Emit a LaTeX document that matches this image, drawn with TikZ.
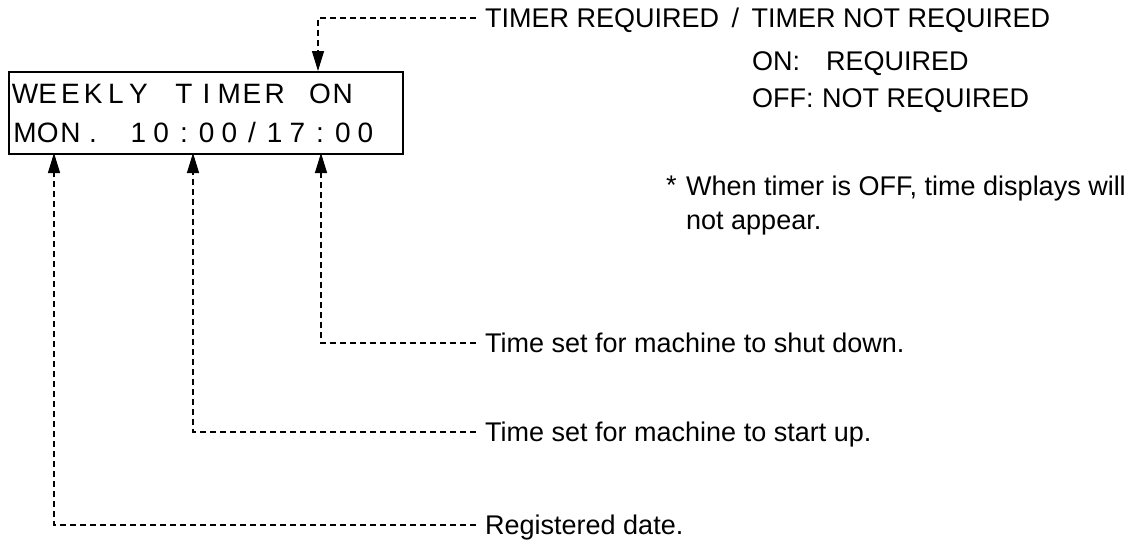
\documentclass[tikz,border=0pt]{standalone}
\usepackage{fontspec}
\setmainfont{Liberation Sans}
\usetikzlibrary{arrows.meta}

\begin{document}
\begin{tikzpicture}[x=1pt, y=-1pt,
  lcd/.style={anchor=base, inner sep=0pt, font={\fontsize{28}{28}\selectfont}},
  note/.style={anchor=west, inner sep=0pt, text height=19.3pt, text depth=0pt,
    font={\fontsize{27}{27}\selectfont}},
  lead/.style={line width=1.2pt, dash pattern=on 6pt off 4pt},
  tip/.style={-{Triangle[length=20pt, width=12pt]}}]
\useasboundingbox (0,0) rectangle (1141,546);
% display panel
\node[draw, line width=1.5pt, inner sep=0pt, minimum width=394pt, minimum height=82pt,
  anchor=north west] (disp) at (8,71) {};
\foreach \c [count=\i from 0] in {W,E,E,K,L,Y,{},T,I,M,E,R,{},O,N}
  \node[lcd] (upper\i) at ({25+\i*22.7},103) {\c};
\foreach \c [count=\i from 0] in {M,O,N,.,{},1,0,:,0,0,/,1,7,:,0,0}
  \node[lcd] (lower\i) at ({25+\i*22.7},142) {\c};
\coordinate (onpt) at (318,71);
\coordinate (datept) at (54,153);
\coordinate (startpt) at (193,153);
\coordinate (stoppt) at (321,153);
% labels
\node[note] (req) at (485,18) {TIMER REQUIRED\hspace{5pt} / \hspace{5pt}TIMER NOT REQUIRED};
\node[note] (on) at (752,61) {ON:};
\node[note] (onreq) at (826,61) {REQUIRED};
\node[note] (off) at (752,98) {OFF:};
\node[note] (offreq) at (822,98) {NOT REQUIRED};
\node[note] (star) at (666,185) {*};
\node[note] (remark) at (686,186) {When timer is OFF, time displays will};
\node[note] (remarkb) at (686,220) {not appear.};
\node[note] (stop) at (485,343) {Time set for machine to shut down.};
\node[note] (start) at (485,432) {Time set for machine to start up.};
\node[note] (date) at (485,525) {Registered date.};
% leaders
\draw[lead, tip] ([xshift=-9pt]req.west) -| (onpt);
\draw[lead, tip] ([xshift=-9pt]stop.west) -| (stoppt);
\draw[lead, tip] ([xshift=-9pt]start.west) -| (startpt);
\draw[lead, tip] ([xshift=-9pt]date.west) -| (datept);
\end{tikzpicture}
\end{document}
